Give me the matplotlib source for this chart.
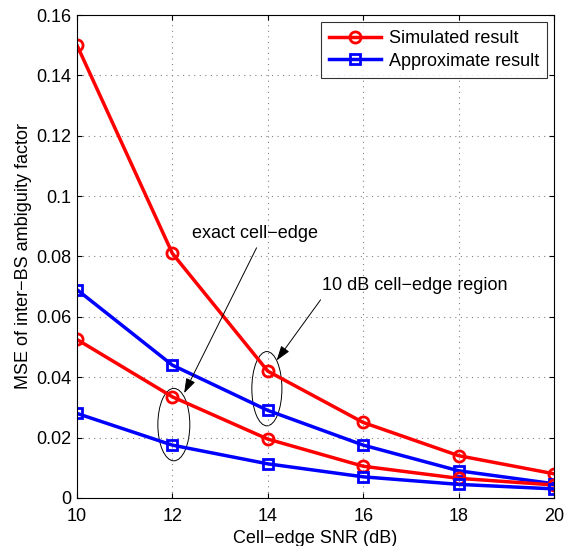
import numpy as np
import matplotlib.pyplot as plt
from matplotlib.patches import Ellipse

plt.rcParams['font.family'] = ['Liberation Sans', 'DejaVu Sans']

snr = [10, 12, 14, 16, 18, 20]
sim_exact = [0.150, 0.081, 0.042, 0.025, 0.014, 0.008]
app_exact = [0.069, 0.044, 0.029, 0.0175, 0.009, 0.0047]
sim_region = [0.0525, 0.0335, 0.0195, 0.0105, 0.0065, 0.0043]
app_region = [0.028, 0.0175, 0.0113, 0.007, 0.0045, 0.003]

fs = 13

fig = plt.figure(figsize=(5.66, 5.46), dpi=100)
ax = fig.add_axes([0.136, 0.088, 0.843, 0.8845])

ax.plot(snr, sim_exact, '-o', color='red', lw=2.5, ms=8, mfc='none', mew=2, label='Simulated result')
ax.plot(snr, app_exact, '-s', color='blue', lw=2.5, ms=6.5, mfc='none', mew=2, label='Approximate result')
ax.plot(snr, sim_region, '-o', color='red', lw=2.5, ms=8, mfc='none', mew=2)
ax.plot(snr, app_region, '-s', color='blue', lw=2.5, ms=6.5, mfc='none', mew=2)

ax.set_xlim(10, 20)
ax.set_ylim(0, 0.16)
ax.set_xticks([10, 12, 14, 16, 18, 20])
ax.set_yticks([0, 0.02, 0.04, 0.06, 0.08, 0.1, 0.12, 0.14, 0.16])
ax.set_yticklabels(['0', '0.02', '0.04', '0.06', '0.08', '0.1', '0.12', '0.14', '0.16'])
ax.tick_params(direction='in', labelsize=fs, top=True, right=True)
ax.tick_params(axis='x', pad=7.5)
ax.tick_params(axis='y', pad=4)
ax.grid(True, linestyle=(0, (1, 4)), color='gray', lw=0.8)
ax.set_xlabel('Cell\u2212edge SNR (dB)', fontsize=fs, labelpad=3)
ax.set_ylabel('MSE of inter\u2212BS ambiguity factor', fontsize=fs, labelpad=3)

# ellipses around marked points
ax.add_patch(Ellipse((12.03, 0.0243), 0.67, 0.024, fill=False, color='black', lw=0.7, clip_on=False))
ax.add_patch(Ellipse((13.98, 0.0362), 0.63, 0.0246, fill=False, color='black', lw=0.7, clip_on=False))

arrow = dict(arrowstyle='-|>,head_length=0.9,head_width=0.3', color='black', lw=0.7)
ax.annotate('', xy=(12.22, 0.0339), xytext=(13.79, 0.0837), arrowprops=arrow)
ax.text(12.41, 0.0876, 'exact cell\u2212edge', fontsize=fs, va='center')
ax.annotate('', xy=(14.15, 0.0448), xytext=(15.14, 0.0664), arrowprops=arrow)
ax.text(15.14, 0.0704, '10 dB cell\u2212edge region', fontsize=fs, va='center')

leg = ax.legend(loc='upper right', fontsize=fs, fancybox=False, edgecolor='black',
                borderaxespad=0.4, handlelength=2.9, borderpad=0.45, labelspacing=0.3,
                handletextpad=0.4)
leg.get_frame().set_linewidth(0.8)

plt.savefig('out.png', dpi=100)
